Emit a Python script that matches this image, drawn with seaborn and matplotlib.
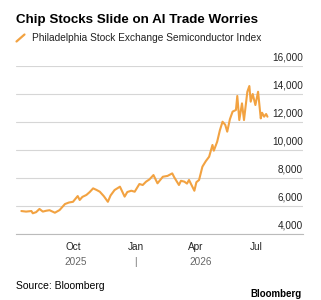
import matplotlib
matplotlib.use("Agg")
import matplotlib.pyplot as plt
import matplotlib.dates as mdates
from matplotlib.lines import Line2D
import matplotlib.transforms as mtransforms
import seaborn as sns
import pandas as pd

dates = [
    "2025-07-15", "2025-07-22", "2025-07-30", "2025-08-01", "2025-08-06", "2025-08-11",
    "2025-08-16", "2025-08-21", "2025-08-26", "2025-09-03", "2025-09-10", "2025-09-18",
    "2025-09-24", "2025-09-30", "2025-10-07", "2025-10-10", "2025-10-14", "2025-10-20",
    "2025-10-25", "2025-10-30", "2025-11-04", "2025-11-09", "2025-11-15", "2025-11-21",
    "2025-11-25", "2025-12-01", "2025-12-09", "2025-12-16", "2025-12-20", "2025-12-26",
    "2025-12-31", "2026-01-07", "2026-01-12", "2026-01-17", "2026-01-22", "2026-01-28",
    "2026-02-03", "2026-02-11", "2026-02-18", "2026-02-25", "2026-02-28", "2026-03-07",
    "2026-03-10", "2026-03-15", "2026-03-19", "2026-03-22", "2026-03-30", "2026-04-02",
    "2026-04-06", "2026-04-11", "2026-04-16", "2026-04-21", "2026-04-26", "2026-04-28",
    "2026-05-03", "2026-05-07", "2026-05-11", "2026-05-15", "2026-05-18", "2026-05-22",
    "2026-05-26", "2026-05-31", "2026-06-02", "2026-06-05", "2026-06-09", "2026-06-12",
    "2026-06-17", "2026-06-20", "2026-06-22", "2026-06-25", "2026-06-29", "2026-07-03",
    "2026-07-07", "2026-07-09", "2026-07-12", "2026-07-15", "2026-07-17",
]
sox_values = [
    5640, 5600, 5640, 5480, 5560, 5790,
    5600, 5660, 5700, 5520, 5710, 6140,
    6250, 6300, 6710, 6430, 6650, 6790,
    7000, 7260, 7150, 7020, 6700, 6300,
    6750, 7140, 7380, 6670, 7000, 7090,
    7020, 7570, 7500, 7740, 7900, 8210,
    7620, 8090, 8150, 8330, 8050, 7500,
    7800, 7740, 7600, 7860, 7090, 7700,
    7860, 8810, 9200, 9520, 10360, 9950,
    10590, 11400, 12020, 11800, 11310, 12200,
    12740, 12860, 13860, 12140, 13330, 12140,
    14160, 14570, 13450, 14000, 13210, 14160,
    12260, 12660, 12380, 12570, 12380,
]
y_ticks = [4000, 6000, 8000, 10000, 12000, 14000, 16000]
y_tick_labels = ["4,000", "6,000", "8,000", "10,000", "12,000", "14,000", "16,000"]
month_ticks = ["2025-10-01", "2026-01-01", "2026-04-01", "2026-07-01"]
month_labels = ["Oct", "Jan", "Apr", "Jul"]
year_labels = ["2025", "2026"]
year_positions = ["2025-10-04", "2026-04-09"]

title = "Chip Stocks Slide on AI Trade Worries"
series_name = "Philadelphia Stock Exchange Semiconductor Index"
source = "Source: Bloomberg"

LINE = "#F2A241"
GRID = "#D6D6D6"

df = pd.DataFrame({"date": pd.to_datetime(dates), "value": sox_values})

sns.set_style("white")
plt.rcParams["font.family"] = ["Liberation Sans", "DejaVu Sans"]

W, H = 321, 300
fig = plt.figure(figsize=(W / 100, H / 100), dpi=100)
ax = fig.add_axes([16 / W, 1 - 234 / H, (303 - 16) / W, (234 - 66) / H])

sns.lineplot(data=df, x="date", y="value", ax=ax, color=LINE, linewidth=1.5)

ax.set_xlim(pd.Timestamp("2025-07-07"), pd.Timestamp("2026-09-08"))
ax.set_ylim(4000, 16000)
ax.set_xlabel("")
ax.set_ylabel("")

for s in ["top", "right", "left"]:
    ax.spines[s].set_visible(False)
ax.spines["bottom"].set_color("#BBBBBB")
ax.spines["bottom"].set_linewidth(0.8)

ax.set_yticks(y_ticks)
ax.set_yticklabels([])
ax.tick_params(axis="y", length=0)
ax.grid(axis="y", color=GRID, linewidth=0.8)
ax.grid(axis="x", visible=False)

offset = mtransforms.ScaledTranslation(0, 3 / 100, fig.dpi_scale_trans)
for v, lab in zip(y_ticks, y_tick_labels):
    ax.text(1.0, v, lab, transform=ax.get_yaxis_transform() + offset,
            ha="right", va="bottom", fontsize=7.2, color="#222222")

ax.set_xticks(pd.to_datetime(month_ticks))
ax.set_xticklabels(month_labels, fontsize=7.2, color="#222222")
ax.xaxis.set_minor_locator(mdates.MonthLocator())
ax.tick_params(axis="x", which="major", length=4, width=0.8, color="#333333", pad=2)
ax.tick_params(axis="x", which="minor", length=2, width=0.6, color="#BBBBBB")

xtrans = ax.get_xaxis_transform()
for pos, lab in zip(year_positions, year_labels):
    ax.text(pd.Timestamp(pos), -0.165, lab, transform=xtrans, ha="center", va="center",
            fontsize=7.2, color="#666666")
ax.text(pd.Timestamp("2026-01-01"), -0.165, "|", transform=xtrans, ha="center", va="center",
        fontsize=7, color="#666666")

fig.text(16 / W, 1 - 20 / H, title, fontsize=9.6, fontweight="bold", ha="left", va="center",
         color="#000000")
fig.add_artist(Line2D([16.5 / W, 24.5 / W], [1 - 41.5 / H, 1 - 34.5 / H], color=LINE, linewidth=1.6,
                      transform=fig.transFigure))
fig.text(32 / W, 1 - 38 / H, series_name, fontsize=7.3, ha="left", va="center", color="#222222")
fig.text(16 / W, 1 - 286 / H, source, fontsize=7.5, ha="left", va="center", color="#000000")
fig.text(302 / W, 1 - 299 / H, "Bloomberg", fontsize=7, fontweight="bold", ha="right", va="bottom",
         color="#000000")

fig.savefig("out.png", dpi=100, facecolor="white")
